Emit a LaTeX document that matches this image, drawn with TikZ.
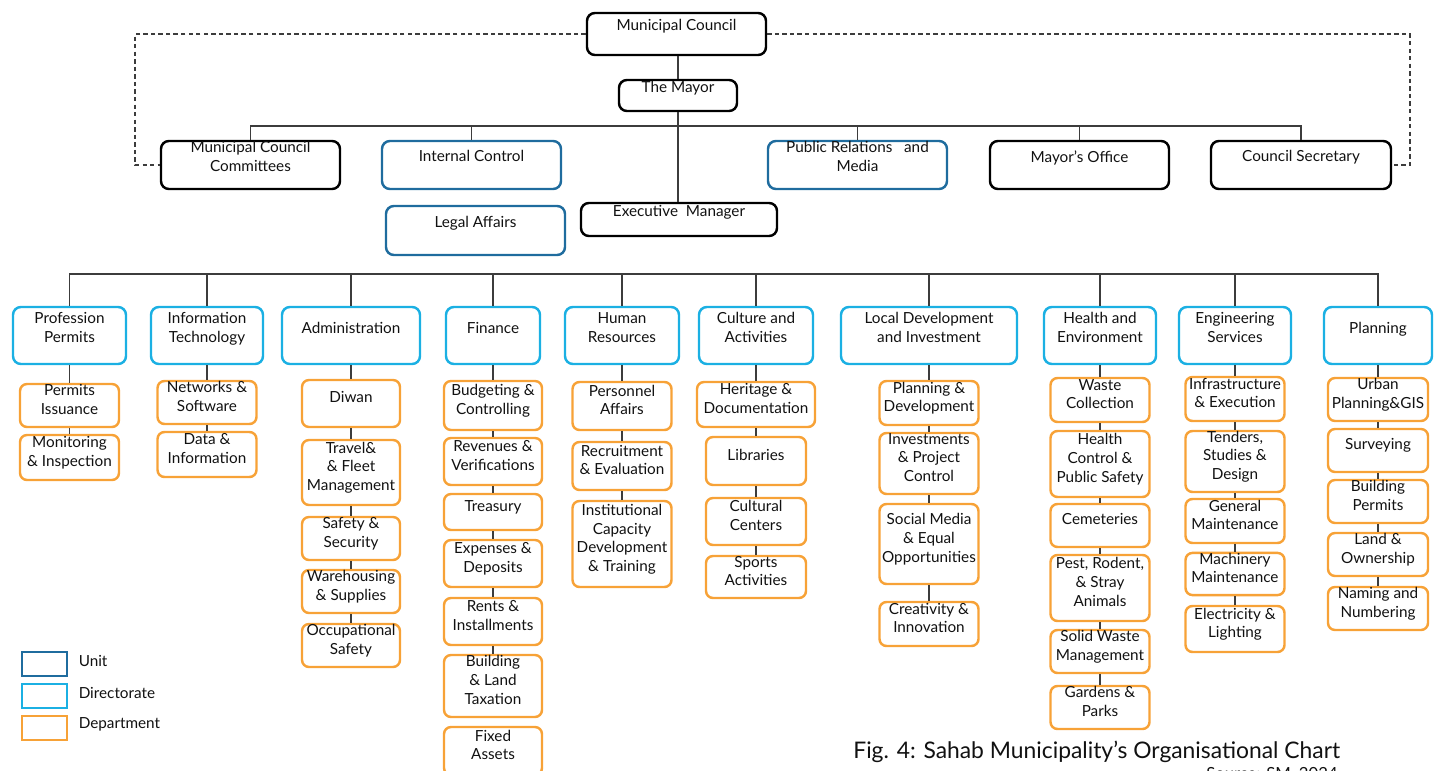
\documentclass[tikz,border=0pt]{standalone}
\usepackage{fontspec}
\setmainfont{Lato}
\definecolor{UnitBlue}{HTML}{1F6C9E}
\definecolor{DirCyan}{HTML}{1BB0E3}
\definecolor{DeptOrange}{HTML}{F7A237}
\definecolor{LineGray}{HTML}{3C3C3C}
\definecolor{TextDark}{HTML}{111111}
\usepackage{tikz}
\usetikzlibrary{positioning}
\tikzset{
  % Box styles
  basebox/.style={rectangle, rounded corners=4.5pt, line width=1.4pt, align=center, inner sep=0pt, text=TextDark, font=\fontsize{8.7}{10.6}\selectfont},
  headbox/.style={basebox, draw=black, execute at end node={\rule[-10pt]{0pt}{10pt}}},
  unitbox/.style={basebox, draw=UnitBlue, execute at end node={\rule[-10pt]{0pt}{10pt}}},
  dirbox/.style={basebox, draw=DirCyan, execute at end node={\rule[-9pt]{0pt}{9pt}}},
  deptbox/.style={basebox, draw=DeptOrange, rounded corners=4pt, execute at end node={\rule[-7pt]{0pt}{7pt}}},
  boxsize/.style 2 args={minimum width=#1*0.02cm, minimum height=#2*0.02cm},
  % Line styles
  link/.style={draw=LineGray, line width=0.8pt},
  dashlink/.style={draw=LineGray, line width=0.7pt, dash pattern=on 2.5pt off 1.8pt},
  % Legend styles
  legendbox/.style={rectangle, line width=1.6pt, minimum width=0.9cm, minimum height=0.48cm, inner sep=0pt},
  legendtext/.style={inner sep=0pt, text=TextDark, font=\fontsize{8.7}{10.6}\selectfont}
}

\begin{document}
\begin{tikzpicture}[x=0.02cm, y=-0.02cm]
  \useasboundingbox (0,0) rectangle (1434,771);

  % Council, mayor and offices
  \node[headbox, boxsize={179}{42}] (council) at (676.5,34) {Municipal Council};
  \node[headbox, boxsize={118}{31}] (mayor) at (678,95.5) {The Mayor};
  \node[headbox, boxsize={179}{48}] (committees) at (250.5,165) {Municipal Council\\Committees};
  \node[unitbox, boxsize={179}{48}] (intcontrol) at (471.5,165) {Internal Control};
  \node[unitbox, boxsize={179}{48}] (prmedia) at (857.5,165) {Public Relations\ \ \ and\\Media};
  \node[headbox, boxsize={179}{48}] (mayoroffice) at (1079.5,165) {Mayor’s Office};
  \node[headbox, boxsize={180}{48}] (secretary) at (1301,165) {Council Secretary};
  \node[unitbox, boxsize={179}{49}] (legal) at (475.5,230.5) {Legal Affairs};
  \node[headbox, boxsize={196}{33}] (execman) at (679,219.5) {Executive\ \ Manager};

  % Upper connectors
  \coordinate (busA) at (0,126);
  \coordinate (dashL) at (135,0);
  \coordinate (dashR) at (1410,0);
  \draw[link] (mayor.north) -- (mayor.north |- council.south);
  \draw[link] (mayor.south) -- (mayor.south |- execman.north);
  \draw[link] (committees.north) |- (secretary.north |- busA) -- (secretary.north);
  \foreach \n in {intcontrol, prmedia, mayoroffice}
    \draw[link] (\n.north) -- (\n.north |- busA);
  \draw[dashlink] (council.west) -| (dashL |- committees.west) -- (committees.west);
  \draw[dashlink] (council.east) -| (dashR |- secretary.east) -- (secretary.east);

  % Directorates
  \node[dirbox, boxsize={113}{57}] (profperm) at (69.5,335.5) {Profession\\Permits};
  \node[dirbox, boxsize={112}{57}] (infotech) at (207,335.5) {Information\\Technology};
  \node[dirbox, boxsize={138}{57}] (admin) at (351,335.5) {Administration};
  \node[dirbox, boxsize={94}{57}] (finance) at (493,335.5) {Finance};
  \node[dirbox, boxsize={114}{57}] (humres) at (622,335.5) {Human\\Resources};
  \node[dirbox, boxsize={114}{57}] (culture) at (756,335.5) {Culture and\\Activities};
  \node[dirbox, boxsize={176}{57}] (localdev) at (929,335.5) {Local Development\\and Investment};
  \node[dirbox, boxsize={112}{57}] (health) at (1100,335.5) {Health and\\Environment};
  \node[dirbox, boxsize={112}{57}] (engserv) at (1235,335.5) {Engineering\\Services};
  \node[dirbox, boxsize={108}{57}] (planning) at (1378,335.5) {Planning};

  \coordinate (busB) at (0,274);
  \draw[link] (profperm.north) |- (planning.north |- busB) -- (planning.north);
  \foreach \n in {infotech, admin, finance, humres, culture, localdev, health, engserv}
    \draw[link] (\n.north) -- (\n.north |- busB);

  % Departments: Profession Permits, Information Technology
  \node[deptbox, boxsize={99}{43}] (permiss) at (69.5,405.5) {Permits\\Issuance};
  \node[deptbox, boxsize={99}{45}] (monitor) at (69.5,457.5) {Monitoring\\\& Inspection};
  \node[deptbox, boxsize={99}{43}] (netsoft) at (207,402.5) {Networks \&\\Software};
  \node[deptbox, boxsize={99}{45}] (datainfo) at (207,454.5) {Data \&\\Information};

  % Departments: Administration
  \node[deptbox, boxsize={98}{47}] (diwan) at (351,403.5) {Diwan};
  \node[deptbox, boxsize={98}{65}] (travel) at (351,472.5) {Travel\&\\\& Fleet\\Management};
  \node[deptbox, boxsize={98}{43}] (safety) at (351,538.5) {Safety \&\\Security};
  \node[deptbox, boxsize={98}{43}] (warehouse) at (351,591.5) {Warehousing\\\& Supplies};
  \node[deptbox, boxsize={98}{43}] (occup) at (351,645.5) {Occupational\\Safety};

  % Departments: Finance
  \node[deptbox, boxsize={98}{49}] (budget) at (493,405.5) {Budgeting \&\\Controlling};
  \node[deptbox, boxsize={98}{47}] (revenue) at (493,461.5) {Revenues \&\\Verifications};
  \node[deptbox, boxsize={98}{36}] (treasury) at (493,512) {Treasury};
  \node[deptbox, boxsize={98}{47}] (expenses) at (493,563.5) {Expenses \&\\Deposits};
  \node[deptbox, boxsize={98}{47}] (rents) at (493,621.5) {Rents \&\\Installments};
  \node[deptbox, boxsize={98}{62}] (taxation) at (493,686) {Building\\\& Land\\Taxation};
  \node[deptbox, boxsize={98}{48}] (fixedassets) at (493,751) {Fixed\\Assets};

  % Departments: Human Resources, Culture
  \node[deptbox, boxsize={99}{48}] (personnel) at (622,406) {Personnel\\Affairs};
  \node[deptbox, boxsize={99}{48}] (recruit) at (622,466) {Recruitment\\\& Evaluation};
  \node[deptbox, boxsize={99}{86}] (capacity) at (622,544) {Institutional\\Capacity\\Development\\\& Training};
  \node[deptbox, boxsize={118}{45}] (heritage) at (756,404.5) {Heritage \&\\Documentation};
  \node[deptbox, boxsize={100}{48}] (libraries) at (756,461) {Libraries};
  \node[deptbox, boxsize={100}{47}] (culcenters) at (756,521.5) {Cultural\\Centers};
  \node[deptbox, boxsize={100}{42}] (sports) at (756,577) {Sports\\Activities};

  % Departments: Local Development
  \node[deptbox, boxsize={99}{44}] (plandev) at (929,403) {Planning \&\\Development};
  \node[deptbox, boxsize={99}{61}] (invest) at (929,463.5) {Investments\\\& Project\\Control};
  \node[deptbox, boxsize={99}{80}] (socialmedia) at (929,544) {Social Media\\\& Equal\\Opportunities};
  \node[deptbox, boxsize={99}{44}] (creativity) at (929,624) {Creativity \&\\Innovation};

  % Departments: Health and Environment
  \node[deptbox, boxsize={99}{44}] (wastecoll) at (1100,400) {Waste\\Collection};
  \node[deptbox, boxsize={99}{66}] (healthctrl) at (1100,464) {Health\\Control \&\\Public Safety};
  \node[deptbox, boxsize={99}{43}] (cemeteries) at (1100,525.5) {Cemeteries};
  \node[deptbox, boxsize={99}{66}] (pest) at (1100,588) {Pest, Rodent,\\\& Stray\\Animals};
  \node[deptbox, boxsize={99}{43}] (solidwaste) at (1100,651.5) {Solid Waste\\Management};
  \node[deptbox, boxsize={99}{43}] (gardens) at (1100,707.5) {Gardens \&\\Parks};

  % Departments: Engineering Services
  \node[deptbox, boxsize={99}{44}] (infra) at (1235,399) {Infrastructure\\\& Execution};
  \node[deptbox, boxsize={99}{61}] (tenders) at (1235,461.5) {Tenders,\\Studies \&\\Design};
  \node[deptbox, boxsize={99}{44}] (genmaint) at (1235,521) {General\\Maintenance};
  \node[deptbox, boxsize={99}{42}] (machmaint) at (1235,574) {Machinery\\Maintenance};
  \node[deptbox, boxsize={99}{46}] (electric) at (1235,629) {Electricity \&\\Lighting};

  % Departments: Planning
  \node[deptbox, boxsize={100}{43}] (urbangis) at (1378,399.5) {Urban\\Planning\&GIS};
  \node[deptbox, boxsize={100}{43}] (surveying) at (1378,450.5) {Surveying};
  \node[deptbox, boxsize={100}{43}] (buildperm) at (1378,501.5) {Building\\Permits};
  \node[deptbox, boxsize={100}{43}] (landown) at (1378,554.5) {Land \&\\Ownership};
  \node[deptbox, boxsize={100}{43}] (naming) at (1378,608.5) {Naming and\\Numbering};

  % Department chains
  \foreach \a/\b in {profperm/permiss, permiss/monitor, infotech/netsoft, netsoft/datainfo,
      admin/diwan, diwan/travel, travel/safety, safety/warehouse, warehouse/occup,
      finance/budget, budget/revenue, revenue/treasury, treasury/expenses, expenses/rents, rents/taxation,
      humres/personnel, personnel/recruit, recruit/capacity,
      culture/heritage, heritage/libraries, libraries/culcenters, culcenters/sports,
      localdev/plandev, plandev/invest, invest/socialmedia, socialmedia/creativity,
      health/wastecoll, wastecoll/healthctrl, healthctrl/cemeteries, cemeteries/pest, pest/solidwaste, solidwaste/gardens,
      engserv/infra, infra/tenders, tenders/genmaint, genmaint/machmaint, machmaint/electric,
      planning/urbangis, urbangis/surveying, surveying/buildperm, buildperm/landown, landown/naming}
    \draw[link] (\a.south) -- (\b.north);

  % Legend
  \node[legendbox, draw=UnitBlue] (lgunit) at (44.5,664) {};
  \node[legendbox, draw=DirCyan] (lgdir) at (44.5,696) {};
  \node[legendbox, draw=DeptOrange] (lgdept) at (44.5,728) {};
  \node[legendtext, right=0.2cm of lgunit, yshift=2pt] (lgunittxt) {Unit};
  \node[legendtext, right=0.2cm of lgdir, yshift=2pt] (lgdirtxt) {Directorate};
  \node[legendtext, right=0.2cm of lgdept, yshift=2pt] (lgdepttxt) {Department};

  % Caption
  \node[anchor=west, inner sep=0pt, text=TextDark, font=\fontsize{13}{15}\selectfont] (caption) at (853,752) {Fig. 4: Sahab Municipality’s Organisational Chart};
  \node[anchor=north east, inner sep=0pt, text=TextDark, font=\fontsize{9.5}{11}\selectfont] (source) at (1338,767) {Source: SM, 2024};
\end{tikzpicture}
\end{document}
